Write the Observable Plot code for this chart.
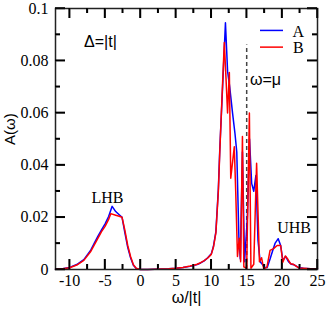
<!DOCTYPE html>
<html>
<head>
<meta charset="utf-8">
<script src="https://cdn.jsdelivr.net/npm/d3@7"></script>
<script src="https://cdn.jsdelivr.net/npm/@observablehq/plot@0.6"></script>
<style>
  html, body { margin: 0; padding: 0; background: #fff; }
</style>
</head>
<body>
<div id="chart"></div>
<script>
// Series A (blue): [omega/|t|, A(omega)]
const seriesA = [
  [-12,0.0001],[-11,0.0003],[-10,0.0008],[-9,0.0019],[-8,0.0038],[-7,0.0075],[-6.5,0.0102],[-6,0.0128],
  [-5.5,0.0152],[-5,0.0175],[-4.5,0.0203],[-4,0.0242],[-3.5,0.0222],[-3,0.0210],[-2.6,0.0200],[-2.2,0.0140],
  [-1.8,0.0085],[-1.4,0.0045],[-1,0.0016],[-0.6,0.0004],[-0.2,0.0001],[0,0],[1,0],[2,0.0001],[3,0.0002],
  [4,0.0003],[5,0.0005],[6,0.0008],[7,0.0012],[7.5,0.0015],[8,0.0019],[8.5,0.0025],[9,0.0033],[9.5,0.0045],
  [10,0.0060],[10.3,0.0088],[10.65,0.0145],[11,0.031],[11.2,0.046],[11.6,0.070],[12,0.0945],[12.3,0.076],
  [12.6,0.070],[13,0.060],[13.35,0.052],[13.6,0.045],[13.9,0.012],[14.1,0.004],[14.4,0.045],[14.7,0.003],
  [15.1,0.020],[15.4,0.050],[15.7,0.033],[16,0.030],[16.3,0.036],[16.6,0.011],[16.9,0.003],[17.2,0.002],
  [17.5,0.0008],[17.9,0.0008],[18.3,0.004],[18.7,0.0075],[19,0.0100],[19.45,0.0118],[19.8,0.0092],
  [20.1,0.0035],[20.5,0.0050],[20.9,0.0030],[21.3,0.0020],[21.7,0.0018],[22.3,0.0008],[23,0.0005],
  [24,0.0003],[25,0.0002]
];
// Series B (red)
const seriesB = [
  [-12,0.0001],[-11,0.0003],[-10,0.0007],[-9,0.0017],[-8,0.0035],[-7,0.0070],[-6.5,0.0095],[-6,0.0120],
  [-5.5,0.0145],[-5,0.0165],[-4.5,0.0192],[-4.2,0.0214],[-3.5,0.0208],[-3,0.0204],[-2.6,0.0200],[-2.2,0.0150],
  [-1.8,0.0092],[-1.4,0.0050],[-1,0.0018],[-0.6,0.0005],[-0.2,0.0001],[0,0],[1,0],[2,0.0001],[3,0.0002],
  [4,0.0003],[5,0.0005],[6,0.0008],[7,0.0013],[7.5,0.0016],[8,0.0020],[8.5,0.0026],[9,0.0034],[9.5,0.0044],
  [10,0.0058],[10.3,0.0085],[10.65,0.0140],[11,0.030],[11.2,0.045],[11.5,0.065],[11.84,0.087],[12.1,0.072],
  [12.3,0.060],[12.55,0.0755],[12.75,0.035],[13.25,0.047],[13.45,0.030],[13.7,0.005],[13.95,0.012],
  [14.15,0.003],[14.4,0.051],[14.6,0.001],[15,0.0005],[15.38,0.060],[15.6,0.0005],[16,0.002],[16.4,0.0407],
  [16.8,0.003],[17.1,0.0045],[17.4,0.0003],[17.85,0.0008],[18.3,0.0073],[18.8,0.0080],[19.3,0.0092],
  [19.8,0.0092],[20.1,0.0028],[20.45,0.0052],[20.8,0.0040],[21.2,0.0022],[21.6,0.0020],[22.35,0.0006],
  [23,0.0005],[24,0.0003],[25,0.0002]
];

const xMajor = [-10, -5, 0, 5, 10, 15, 20, 25];
const xMinor = [-7.5, -2.5, 2.5, 7.5, 12.5, 17.5, 22.5];
const yMajor = [0, 0.02, 0.04, 0.06, 0.08, 0.1];
const yMinor = [0.01, 0.03, 0.05, 0.07, 0.09];
const yTickLabels = ["0", "0.02", "0.04", "0.06", "0.08", "0.1"];
const xDomain = [-12, 25];
const yDomain = [0, 0.1];

const muValue = 15;      // omega = mu
const muTop = 0.086;

// annotations (in data units)
const legendItems = [
  {key: "A", color: "#0000ff", y: 0.0916},
  {key: "B", color: "#ff0000", y: 0.0852}
];
const legendX1 = 16.95, legendX2 = 20.2, legendTextX = 22.3;
const notes = [
  {text: "Δ=|t|", x: -5.65, y: 0.0872, font: "Liberation Sans, Arial, sans-serif"},
  {text: "ω=μ", x: 17.65, y: 0.0728, font: "Liberation Sans, Arial, sans-serif"},
  {text: "LHB", x: -4.66, y: 0.0276, font: "Liberation Serif, Times New Roman, serif"},
  {text: "UHB", x: 21.7, y: 0.0161, font: "Liberation Serif, Times New Roman, serif"}
];

const W = 327, H = 310, mL = 55, mR = 10, mT = 8, mB = 41;
const frameW = W - mL - mR, frameH = H - mT - mB;
const MAJOR = 10, MINOR = 5;   // tick lengths in px

const serifFont = "Liberation Serif, Times New Roman, serif";
const sansFont = "Liberation Sans, Arial, sans-serif";

const chart = Plot.plot({
  width: W,
  height: H,
  marginLeft: mL,
  marginRight: mR,
  marginTop: mT,
  marginBottom: mB,
  x: {domain: xDomain},
  y: {domain: yDomain},
  marks: [
    // inward ticks (drawn first)
    Plot.tickX(xMajor, {x: d => d, insetTop: frameH - MAJOR, stroke: "black", strokeWidth: 1.5}),
    Plot.tickX(xMinor, {x: d => d, insetTop: frameH - MINOR, stroke: "black", strokeWidth: 1.5}),
    Plot.tickX(xMajor, {x: d => d, insetBottom: frameH - MAJOR, stroke: "black", strokeWidth: 1.5}),
    Plot.tickX(xMinor, {x: d => d, insetBottom: frameH - MINOR, stroke: "black", strokeWidth: 1.5}),
    Plot.tickY(yMajor, {y: d => d, insetRight: frameW - MAJOR, stroke: "black", strokeWidth: 1.5}),
    Plot.tickY(yMinor, {y: d => d, insetRight: frameW - MINOR, stroke: "black", strokeWidth: 1.5}),
    Plot.tickY(yMajor, {y: d => d, insetLeft: frameW - MAJOR, stroke: "black", strokeWidth: 1.5}),
    Plot.tickY(yMinor, {y: d => d, insetLeft: frameW - MINOR, stroke: "black", strokeWidth: 1.5}),
    // tick labels
    Plot.axisX(xMajor, {anchor: "bottom", tickSize: 0, tickPadding: 5, tickFormat: d => String(d), fontSize: 16, fontFamily: serifFont, fill: "black", label: null}),
    Plot.axisY(yMajor, {anchor: "left", tickSize: 0, tickPadding: 7, tickFormat: (d, i) => yTickLabels[i], fontSize: 16, fontFamily: serifFont, fill: "black", label: null}),
    // axis titles
    Plot.text(["ω/|t|"], {frameAnchor: "bottom", dy: 33, fontSize: 16, fontFamily: sansFont, fill: "black", text: d => d}),
    Plot.text(["A(ω)"], {frameAnchor: "left", dx: -45, dy: 6, rotate: -90, fontSize: 15, fontFamily: sansFont, fill: "black", text: d => d}),
    // omega = mu dashed line
    Plot.ruleX([muValue], {y1: 0, y2: muTop, stroke: "#444", strokeWidth: 1.5, strokeDasharray: "4,3"}),
    // data
    Plot.line(seriesA, {x: d => d[0], y: d => d[1], stroke: "#0000ff", strokeWidth: 1.5}),
    Plot.line(seriesB, {x: d => d[0], y: d => d[1], stroke: "#ff0000", strokeWidth: 1.5}),
    // legend
    Plot.ruleY(legendItems, {x1: legendX1, x2: legendX2, y: "y", stroke: "color", strokeWidth: 1.5}),
    Plot.text(legendItems, {x: legendTextX, y: "y", text: "key", fontSize: 16, fontFamily: serifFont, fill: "black", dy: 1}),
    // annotations
    Plot.text(notes, {x: "x", y: "y", text: "text", fontSize: 16, fill: "black"}),
    Plot.frame({stroke: "#222", strokeWidth: 1.5})
  ]
});

// annotation fonts (sans for Δ=|t| and ω=μ, serif for LHB/UHB)
d3.select(chart).selectAll("text").each(function () {
  const t = this.textContent;
  const n = notes.find(d => d.text === t);
  if (n) this.setAttribute("font-family", n.font);
});

// fallback: inward ticks placed through Plot's own scales
const sx = chart.scale("x"), sy = chart.scale("y");
const g = d3.select(chart).append("g").attr("stroke", "black").attr("stroke-width", 1.5);
const yb = sy.apply(yDomain[0]), yt = sy.apply(yDomain[1]);
const xl = sx.apply(xDomain[0]), xr = sx.apply(xDomain[1]);
[[xMajor, MAJOR], [xMinor, MINOR]].forEach(([vals, len]) => vals.forEach(v => {
  const px = sx.apply(v);
  g.append("line").attr("x1", px).attr("x2", px).attr("y1", yb).attr("y2", yb - len);
  g.append("line").attr("x1", px).attr("x2", px).attr("y1", yt).attr("y2", yt + len);
}));
[[yMajor, MAJOR], [yMinor, MINOR]].forEach(([vals, len]) => vals.forEach(v => {
  const py = sy.apply(v);
  g.append("line").attr("y1", py).attr("y2", py).attr("x1", xl).attr("x2", xl + len);
  g.append("line").attr("y1", py).attr("y2", py).attr("x1", xr).attr("x2", xr - len);
}));

document.getElementById("chart").appendChild(chart);
</script>
</body>
</html>
